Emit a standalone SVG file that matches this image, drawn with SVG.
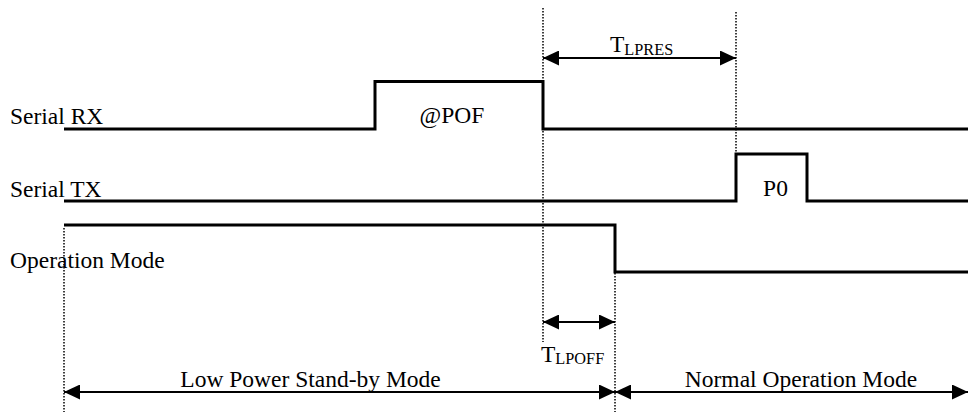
<svg xmlns="http://www.w3.org/2000/svg" width="968" height="412" viewBox="0 0 968 412">
<style>
text{font-family:"Liberation Serif","Times New Roman",serif;font-size:23.5px;fill:#000}
.sub{font-size:16.3px}
.sig{fill:none;stroke:#000;stroke-width:3;stroke-linejoin:miter}
.dot{fill:none;stroke:#000;stroke-width:1.5;stroke-dasharray:1.5 1.5}
.arr{fill:none;stroke:#000;stroke-width:2;marker-start:url(#ah);marker-end:url(#ah)}
</style>
<defs>
<marker id="ah" viewBox="0 0 16 15" refX="16" refY="7.5" markerWidth="16" markerHeight="15" markerUnits="userSpaceOnUse" orient="auto-start-reverse">
<path d="M0,0 L16,7.5 L0,15 Z" fill="#000"/>
</marker>
</defs>
<rect width="968" height="412" fill="#fff"/>
<g id="labels">
<text x="10" y="124">Serial RX</text>
<text x="10" y="197">Serial TX</text>
<text x="10" y="268">Operation Mode</text>
</g>
<g id="serial-rx">
<polyline class="sig" points="64,129 375,129 375,81.5 543,81.5 543,129 968,129"/>
<text x="452" y="123" text-anchor="middle">@POF</text>
</g>
<g id="serial-tx">
<polyline class="sig" points="64,201 736,201 736,154 807,154 807,201 968,201"/>
<text x="775.5" y="196" text-anchor="middle">P0</text>
</g>
<g id="operation-mode">
<polyline class="sig" points="64,225 615,225 615,272 968,272"/>
</g>
<g id="connectors">
<line class="dot" x1="543" y1="8" x2="543" y2="342"/>
<line class="dot" x1="736" y1="12" x2="736" y2="152"/>
<line class="dot" x1="64" y1="228" x2="64" y2="412"/>
<line class="dot" x1="615" y1="228" x2="615" y2="412"/>
<line class="arr" x1="543" y1="58" x2="736" y2="58"/>
<line class="arr" x1="543" y1="322" x2="615" y2="322"/>
<line class="arr" x1="64" y1="392" x2="615" y2="392"/>
<line class="arr" x1="615" y1="392" x2="968" y2="392"/>
</g>
<g id="t-lpres">
<text x="610" y="52">T<tspan class="sub" dy="3">LPRES</tspan></text>
</g>
<g id="t-lpoff">
<text x="541" y="362">T<tspan class="sub" dy="2">LPOFF</tspan></text>
</g>
<g id="modes">
<text x="310.5" y="387" text-anchor="middle">Low Power Stand-by Mode</text>
<text x="801" y="387" text-anchor="middle">Normal Operation Mode</text>
</g>
</svg>
